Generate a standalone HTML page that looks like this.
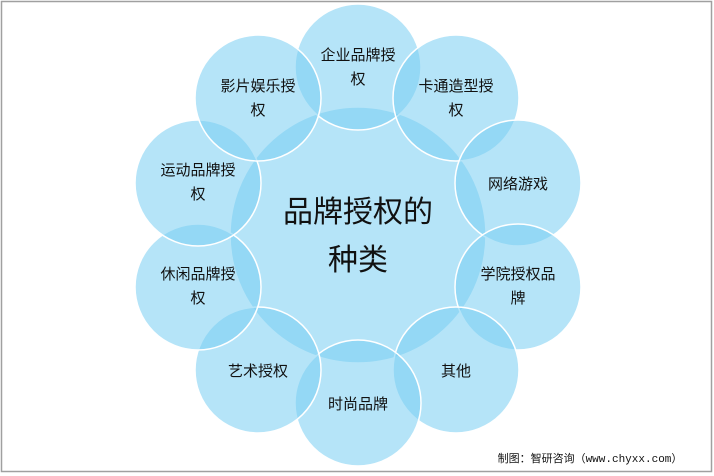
<!DOCTYPE html>
<html><head><meta charset="utf-8"><style>
html,body{margin:0;padding:0;background:#fff;}
svg{display:block;}
text{font-family:"Liberation Sans","Noto Sans CJK SC",sans-serif;fill:#111;text-anchor:middle;}
</style></head><body>
<svg width="714" height="476" viewBox="0 0 714 476">
<rect x="1.5" y="1.5" width="710" height="470" fill="#fff" stroke="#a0a0a0" stroke-width="1.5"/>
<g fill="rgb(120,205,242)" fill-opacity="0.55" stroke="#fff" stroke-width="1.5">
<circle cx="358" cy="235" r="128"/>
<circle cx="358" cy="67" r="63"/>
<circle cx="456" cy="98" r="63"/>
<circle cx="518" cy="183" r="63"/>
<circle cx="518" cy="287" r="63"/>
<circle cx="456" cy="370" r="63"/>
<circle cx="358" cy="403" r="63"/>
<circle cx="258" cy="370" r="63"/>
<circle cx="198" cy="287" r="63"/>
<circle cx="198" cy="183" r="63"/>
<circle cx="258" cy="98" r="63"/>
</g>
<g font-size="15">
<text x="358" y="60">企业品牌授</text><text x="358" y="84">权</text>
<text x="456" y="91">卡通造型授</text><text x="456" y="115">权</text>
<text x="518" y="189">网络游戏</text>
<text x="518" y="279">学院授权品</text><text x="518" y="303">牌</text>
<text x="456" y="376">其他</text>
<text x="358" y="409">时尚品牌</text>
<text x="258" y="376">艺术授权</text>
<text x="198" y="279">休闲品牌授</text><text x="198" y="303">权</text>
<text x="198" y="175">运动品牌授</text><text x="198" y="199">权</text>
<text x="258" y="91">影片娱乐授</text><text x="258" y="115">权</text>
</g>
<text x="358" y="222" font-size="30">品牌授权的</text>
<text x="358" y="270" font-size="30">种类</text>
<text x="590" y="462" font-size="11" style="font-family:'Liberation Mono','Noto Sans CJK SC',monospace">制图：智研咨询（www.chyxx.com）</text>
</svg>
</body></html>
